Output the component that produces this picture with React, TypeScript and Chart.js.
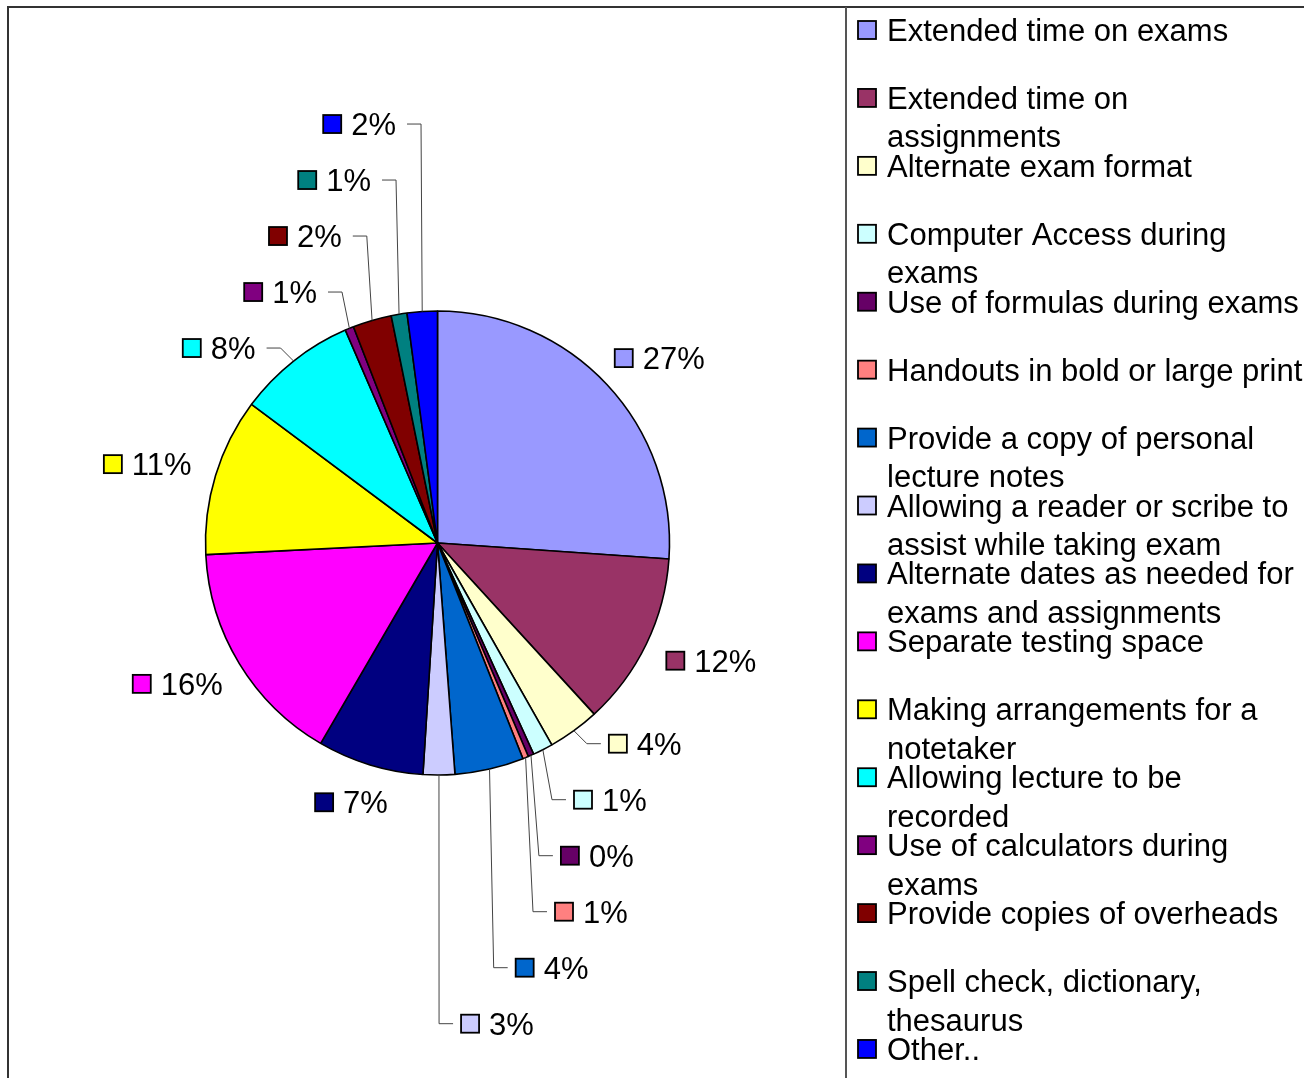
import React, { useEffect, useRef } from 'react';
import { Chart, registerables } from 'chart.js';

Chart.register(...registerables);

// ---------- data ----------
const categories = [
  'Extended time on exams',
  'Extended time on assignments',
  'Alternate exam format',
  'Computer Access during exams',
  'Use of formulas during exams',
  'Handouts in bold or large print',
  'Provide a copy of personal lecture notes',
  'Allowing a reader or scribe to assist while taking exam',
  'Alternate dates as needed for exams and assignments',
  'Separate testing space',
  'Making arrangements for a notetaker',
  'Allowing lecture to be recorded',
  'Use of calculators during exams',
  'Provide copies of overheads',
  'Spell check, dictionary, thesaurus',
  'Other..',
];

const shares = [26.1, 12.1, 3.6, 1.4, 0.4, 0.4, 4.8, 2.2, 7.4, 15.8, 11.0, 8.3, 0.6, 2.7, 1.1, 2.1];

const percentLabels = ['27%', '12%', '4%', '1%', '0%', '1%', '4%', '3%', '7%', '16%', '11%', '8%', '1%', '2%', '1%', '2%'];

const sliceColors = [
  '#9999FF', '#993366', '#FFFFCC', '#CCFFFF', '#660066', '#FF8080', '#0066CC', '#CCCCFF',
  '#000080', '#FF00FF', '#FFFF00', '#00FFFF', '#800080', '#800000', '#008080', '#0000FF',
];

// ---------- styling ----------
const W = 1304;
const H = 1078;
const FONT_PX = 31;
const FONT = `${FONT_PX}px "Liberation Sans", Arial, sans-serif`;
const SW = 18;
const GAP = 10;
const BOX_H = 28;
const FRAME = { left: 8, top: 7, legendX: 846 };
const LEGEND = { swatchX: 858, textX: 887, firstY: 30, step: 67.93, lineH: 38.5, maxW: 420 };

function drawSwatch(ctx: CanvasRenderingContext2D, x: number, cy: number, color: string) {
  ctx.fillStyle = color;
  ctx.fillRect(x, cy - SW / 2, SW, SW);
  ctx.lineWidth = 1.8;
  ctx.strokeStyle = '#000';
  ctx.strokeRect(x, cy - SW / 2, SW, SW);
}

const framePlugin = {
  id: 'frame',
  beforeDraw(chart: any) {
    const ctx = chart.ctx as CanvasRenderingContext2D;
    ctx.save();
    ctx.fillStyle = '#fff';
    ctx.fillRect(0, 0, chart.width, chart.height);
    ctx.restore();
  },
  afterDraw(chart: any) {
    const ctx = chart.ctx as CanvasRenderingContext2D;
    ctx.save();
    ctx.strokeStyle = '#333';
    ctx.lineWidth = 2;
    ctx.beginPath();
    ctx.moveTo(FRAME.left, chart.height + 5);
    ctx.lineTo(FRAME.left, FRAME.top);
    ctx.lineTo(chart.width + 5, FRAME.top);
    ctx.stroke();
    ctx.strokeStyle = '#555';
    ctx.beginPath();
    ctx.moveTo(FRAME.legendX, FRAME.top);
    ctx.lineTo(FRAME.legendX, chart.height + 5);
    ctx.stroke();
    ctx.restore();
  },
};

function wrapText(ctx: CanvasRenderingContext2D, text: string, maxW: number): string[] {
  const words = text.split(' ');
  const lines: string[] = [];
  let cur = '';
  for (const w of words) {
    const test = cur ? cur + ' ' + w : w;
    if (cur && ctx.measureText(test).width > maxW) {
      lines.push(cur);
      cur = w;
    } else {
      cur = test;
    }
  }
  if (cur) lines.push(cur);
  return lines;
}

const legendPlugin = {
  id: 'sideLegend',
  afterDraw(chart: any) {
    const ctx = chart.ctx as CanvasRenderingContext2D;
    const labels: string[] = chart.data.labels;
    const colors: string[] = chart.data.datasets[0].backgroundColor;
    ctx.save();
    ctx.font = FONT;
    ctx.textBaseline = 'alphabetic';
    ctx.textAlign = 'left';
    labels.forEach((lab, i) => {
      const cy = LEGEND.firstY + LEGEND.step * i;
      drawSwatch(ctx, LEGEND.swatchX, cy, colors[i]);
      ctx.fillStyle = '#000';
      wrapText(ctx, lab, LEGEND.maxW).forEach((line, k) => {
        ctx.fillText(line, LEGEND.textX, cy + 11 + k * LEGEND.lineH);
      });
    });
    ctx.restore();
  },
};

const pieLabelPlugin = {
  id: 'pieLabels',
  afterDatasetsDraw(chart: any) {
    const ctx = chart.ctx as CanvasRenderingContext2D;
    const meta = chart.getDatasetMeta(0);
    const colors: string[] = chart.data.datasets[0].backgroundColor;
    ctx.save();
    ctx.font = FONT;
    const items = meta.data.map((arc: any, i: number) => {
      const p = arc.getProps(['x', 'y', 'startAngle', 'endAngle', 'outerRadius'], true);
      const a = (p.startAngle + p.endAngle) / 2;
      const ux = Math.cos(a);
      const uy = Math.sin(a);
      const R = p.outerRadius;
      const ex = p.x + R * ux;
      const ey = p.y + R * uy;
      const text = percentLabels[i];
      const tw = ctx.measureText(text).width;
      const w = SW + GAP + tw;
      const px = p.x + (R + 27) * ux;
      const py = p.y + (R + 25) * uy;
      const cx = px + (ux * w) / 2;
      const cy = py + (uy * BOX_H) / 2;
      return { i, ux, uy, ex, ey, text, tw, w, cx, cy, bx: cx - w / 2, by: cy - BOX_H / 2 };
    });

    const parent = items.map((_: any, k: number) => k);
    const find = (k: number): number => (parent[k] === k ? k : (parent[k] = find(parent[k])));
    const PX = 4;
    const PY = 8;
    for (let a = 0; a < items.length; a++) {
      for (let b = a + 1; b < items.length; b++) {
        const A = items[a];
        const B = items[b];
        const ox = A.bx - PX < B.bx + B.w + PX && B.bx - PX < A.bx + A.w + PX;
        const oy = A.by - PY < B.by + BOX_H + PY && B.by - PY < A.by + BOX_H + PY;
        if (ox && oy) parent[find(a)] = find(b);
      }
    }
    const groups: Record<number, any[]> = {};
    items.forEach((it: any, k: number) => {
      const r = find(k);
      (groups[r] = groups[r] || []).push(it);
    });

    const drawLabel = (it: any, sx: number, cy: number) => {
      drawSwatch(ctx, sx, cy, colors[it.i]);
      ctx.fillStyle = '#000';
      ctx.textBaseline = 'alphabetic';
      ctx.textAlign = 'left';
      ctx.fillText(it.text, sx + SW + GAP, cy + 11);
    };

    Object.values(groups).forEach((g: any[]) => {
      if (g.length === 1) {
        const it = g[0];
        drawLabel(it, it.bx, it.cy);
        return;
      }
      const dir = g.reduce((s, it) => s + it.uy, 0) >= 0 ? 1 : -1;
      const side = g.reduce((s, it) => s + it.ux, 0) >= 0 ? 1 : -1;
      const sorted = [...g].sort((p, q) => Math.abs(p.uy) - Math.abs(q.uy));
      let prevY: number | null = null;
      sorted.forEach((it) => {
        let y = it.ey + dir * 13;
        if (prevY !== null) y = dir > 0 ? Math.max(y, prevY + 56) : Math.min(y, prevY - 56);
        prevY = y;
        const dyAbs = Math.abs(y - it.ey);
        const bdx = Math.min(18 * Math.abs(it.ux / (it.uy || 1e-6)), dyAbs);
        const bxp = it.ex + side * bdx;
        ctx.strokeStyle = '#444';
        ctx.lineWidth = 1;
        ctx.beginPath();
        ctx.moveTo(it.ex, it.ey);
        ctx.lineTo(bxp, y);
        ctx.lineTo(bxp + side * 14, y);
        ctx.stroke();
        const sx = side > 0 ? bxp + 22 : bxp - 25 - it.tw - GAP - SW;
        drawLabel(it, sx, y);
      });
    });
    ctx.restore();
  },
};

export default function App() {
  const ref = useRef<HTMLCanvasElement | null>(null);
  useEffect(() => {
    if (!ref.current) return;
    const chart = new Chart(ref.current, {
      type: 'pie',
      data: {
        labels: categories,
        datasets: [
          {
            data: shares,
            backgroundColor: sliceColors,
            borderColor: '#000',
            borderWidth: 1.6,
            radius: 232,
          } as any,
        ],
      },
      options: {
        animation: false,
        responsive: false,
        events: [],
        layout: { padding: { left: 0, right: W - 875, top: 8, bottom: 0 } },
        plugins: { legend: { display: false }, tooltip: { enabled: false } },
      },
      plugins: [framePlugin, pieLabelPlugin, legendPlugin],
    } as any);
    return () => chart.destroy();
  }, []);
  return (
    <div style={{ position: 'fixed', left: 0, top: 0, width: W, height: H, background: '#fff', overflow: 'hidden' }}>
      <canvas ref={ref} width={W} height={H} style={{ display: 'block', width: W, height: H }} />
    </div>
  );
}
